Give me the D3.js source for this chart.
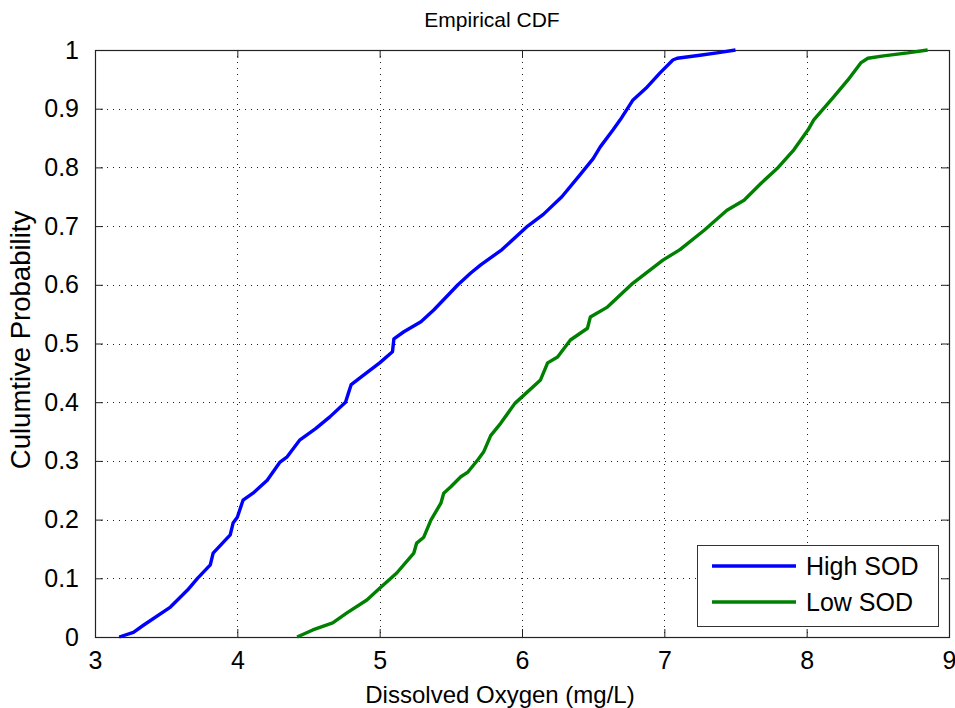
<!DOCTYPE html>
<html>
<head>
<meta charset="utf-8">
<script src="https://cdn.jsdelivr.net/npm/d3@7"></script>
<style>
  html, body { margin: 0; padding: 0; background: #fff; }
  svg { display: block; font-family: "Liberation Sans", Arial, Helvetica, sans-serif; }
</style>
</head>
<body>
<svg id="chart" width="955" height="708"></svg>
<script>
// ---- Data ----
const titleText = "Empirical CDF";
const xLabelText = "Dissolved Oxygen (mg/L)";
const yLabelText = "Culumtive Probability";
const seriesNames = ["High SOD", "Low SOD"];
const seriesColors = ["#0000ff", "#008000"];

const xTicks = [3, 4, 5, 6, 7, 8, 9];
const yTicks = [0, 0.1, 0.2, 0.3, 0.4, 0.5, 0.6, 0.7, 0.8, 0.9, 1];
const yTickLabels = ["0", "0.1", "0.2", "0.3", "0.4", "0.5", "0.6", "0.7", "0.8", "0.9", "1"];

const highX = [3.17, 3.27, 3.34, 3.53, 3.65, 3.72, 3.81, 3.83, 3.95, 3.97, 4.00, 4.04, 4.11, 4.21, 4.30, 4.35, 4.44,
               4.55, 4.65, 4.76, 4.78, 4.80, 4.88, 5.00, 5.09, 5.10, 5.17, 5.29, 5.38, 5.55, 5.64, 5.71, 5.86,
               6.04, 6.15, 6.28, 6.40, 6.50, 6.55, 6.64, 6.69, 6.78, 6.88, 6.97, 7.06, 7.09, 7.25, 7.37, 7.50];
const highY = [0.000, 0.008, 0.020, 0.051, 0.080, 0.100, 0.123, 0.143, 0.174, 0.194, 0.204, 0.233, 0.245, 0.267, 0.298, 0.307, 0.336,
               0.355, 0.375, 0.400, 0.415, 0.430, 0.445, 0.467, 0.486, 0.508, 0.520, 0.537, 0.557, 0.600, 0.620, 0.634, 0.660,
               0.700, 0.720, 0.750, 0.785, 0.815, 0.835, 0.864, 0.881, 0.915, 0.937, 0.961, 0.983, 0.986, 0.991, 0.995, 1.000];

const lowX = [4.42, 4.53, 4.67, 4.77, 4.91, 5.00, 5.12, 5.24, 5.26, 5.31, 5.36, 5.43, 5.45, 5.50, 5.57, 5.62, 5.69, 5.73,
              5.78, 5.85, 5.95, 6.13, 6.18, 6.25, 6.34, 6.46, 6.48, 6.60, 6.78, 6.99, 7.11, 7.28, 7.44, 7.56, 7.68, 7.80,
              7.91, 8.01, 8.05, 8.19, 8.29, 8.38, 8.43, 8.54, 8.71, 8.85];
const lowY = [0.000, 0.012, 0.024, 0.041, 0.063, 0.083, 0.109, 0.143, 0.160, 0.170, 0.199, 0.228, 0.245, 0.256, 0.273, 0.281, 0.302, 0.315,
              0.343, 0.364, 0.398, 0.438, 0.467, 0.477, 0.506, 0.526, 0.545, 0.562, 0.603, 0.642, 0.660, 0.693, 0.727, 0.744, 0.773, 0.800,
              0.830, 0.864, 0.881, 0.920, 0.949, 0.978, 0.986, 0.990, 0.995, 1.000];

// ---- Layout ----
const svg = d3.select("#chart");
const margin = { left: 95, top: 50, right: 6, bottom: 71 };
const W = 955, H = 708;
const pw = W - margin.left - margin.right;
const ph = H - margin.top - margin.bottom;

const x = d3.scaleLinear().domain([3, 9]).range([0, pw]);
const y = d3.scaleLinear().domain([0, 1]).range([ph, 0]);

const g = svg.append("g").attr("transform", `translate(${margin.left},${margin.top})`);

// Grid (dotted)
const grid = g.append("g").attr("class", "grid");
grid.selectAll("line.gx").data(xTicks.slice(1, -1)).enter().append("line")
  .attr("x1", d => Math.round(x(d)) + 0.5).attr("x2", d => Math.round(x(d)) + 0.5)
  .attr("y1", 0).attr("y2", ph)
  .attr("stroke", "#222").attr("stroke-width", 1).attr("stroke-dasharray", "1,5");
grid.selectAll("line.gy").data(yTicks.slice(1, -1)).enter().append("line")
  .attr("y1", d => Math.round(y(d)) + 0.5).attr("y2", d => Math.round(y(d)) + 0.5)
  .attr("x1", 0).attr("x2", pw)
  .attr("stroke", "#222").attr("stroke-width", 1).attr("stroke-dasharray", "1,5");

// Axes with inward ticks
const fontTick = 25;
const xAxisB = d3.axisBottom(x).tickValues(xTicks).tickSize(-8).tickPadding(14).tickFormat(d3.format("d"));
const xAxisT = d3.axisTop(x).tickValues(xTicks).tickSize(-8).tickFormat("");
const yAxisL = d3.axisLeft(y).tickValues(yTicks).tickSize(-8).tickPadding(16).tickFormat((d, i) => yTickLabels[i]);
const yAxisR = d3.axisRight(y).tickValues(yTicks).tickSize(-8).tickFormat("");

function styleAxis(sel) {
  sel.select(".domain").remove();
  sel.selectAll(".tick line").attr("stroke", "#222").attr("stroke-width", 1);
  sel.selectAll(".tick text").attr("fill", "#000").style("font-size", fontTick + "px")
    .style("font-family", '"Liberation Sans", Arial, sans-serif');
}
g.append("g").attr("transform", `translate(0,${ph})`).call(xAxisB).call(styleAxis);
g.append("g").call(xAxisT).call(styleAxis);
g.append("g").call(yAxisL).call(styleAxis);
g.append("g").attr("transform", `translate(${pw},0)`).call(yAxisR).call(styleAxis);

// Box
g.append("rect").attr("x", 0.5).attr("y", 0.5).attr("width", pw).attr("height", ph)
  .attr("fill", "none").attr("stroke", "#222").attr("stroke-width", 1.2);

// Lines
const series = [
  { name: seriesNames[0], color: seriesColors[0], xs: highX, ys: highY },
  { name: seriesNames[1], color: seriesColors[1], xs: lowX, ys: lowY }
];
const line = d3.line().x(d => x(d[0])).y(d => y(d[1]));
series.forEach(s => {
  const pts = s.xs.map((v, i) => [v, s.ys[i]]);
  g.append("path").datum(pts).attr("d", line)
    .attr("fill", "none").attr("stroke", s.color).attr("stroke-width", 3.4)
    .attr("stroke-linejoin", "round").attr("stroke-linecap", "butt");
});

// Legend
const lg = svg.append("g").attr("transform", "translate(697,545)");
lg.append("rect").attr("x", 0.5).attr("y", 0.5).attr("width", 241).attr("height", 81)
  .attr("fill", "#fff").attr("stroke", "#333").attr("stroke-width", 1);
series.forEach((s, i) => {
  const yy = 21 + i * 36;
  lg.append("line").attr("x1", 15).attr("x2", 99).attr("y1", yy).attr("y2", yy)
    .attr("stroke", s.color).attr("stroke-width", 3.4);
  lg.append("text").attr("x", 109).attr("y", yy).attr("dy", "0.36em")
    .style("font-size", "25px").attr("fill", "#000").text(s.name);
});

// Title and labels
svg.append("text").attr("x", 492).attr("y", 27).attr("text-anchor", "middle")
  .style("font-size", "21px").attr("fill", "#000").text(titleText);
svg.append("text").attr("x", 500).attr("y", 703).attr("text-anchor", "middle")
  .style("font-size", "24px").attr("fill", "#000").text(xLabelText);
svg.append("text").attr("transform", `translate(30,340) rotate(-90)`)
  .attr("text-anchor", "middle").style("font-size", "27.5px").attr("fill", "#000").text(yLabelText);
</script>
</body>
</html>
